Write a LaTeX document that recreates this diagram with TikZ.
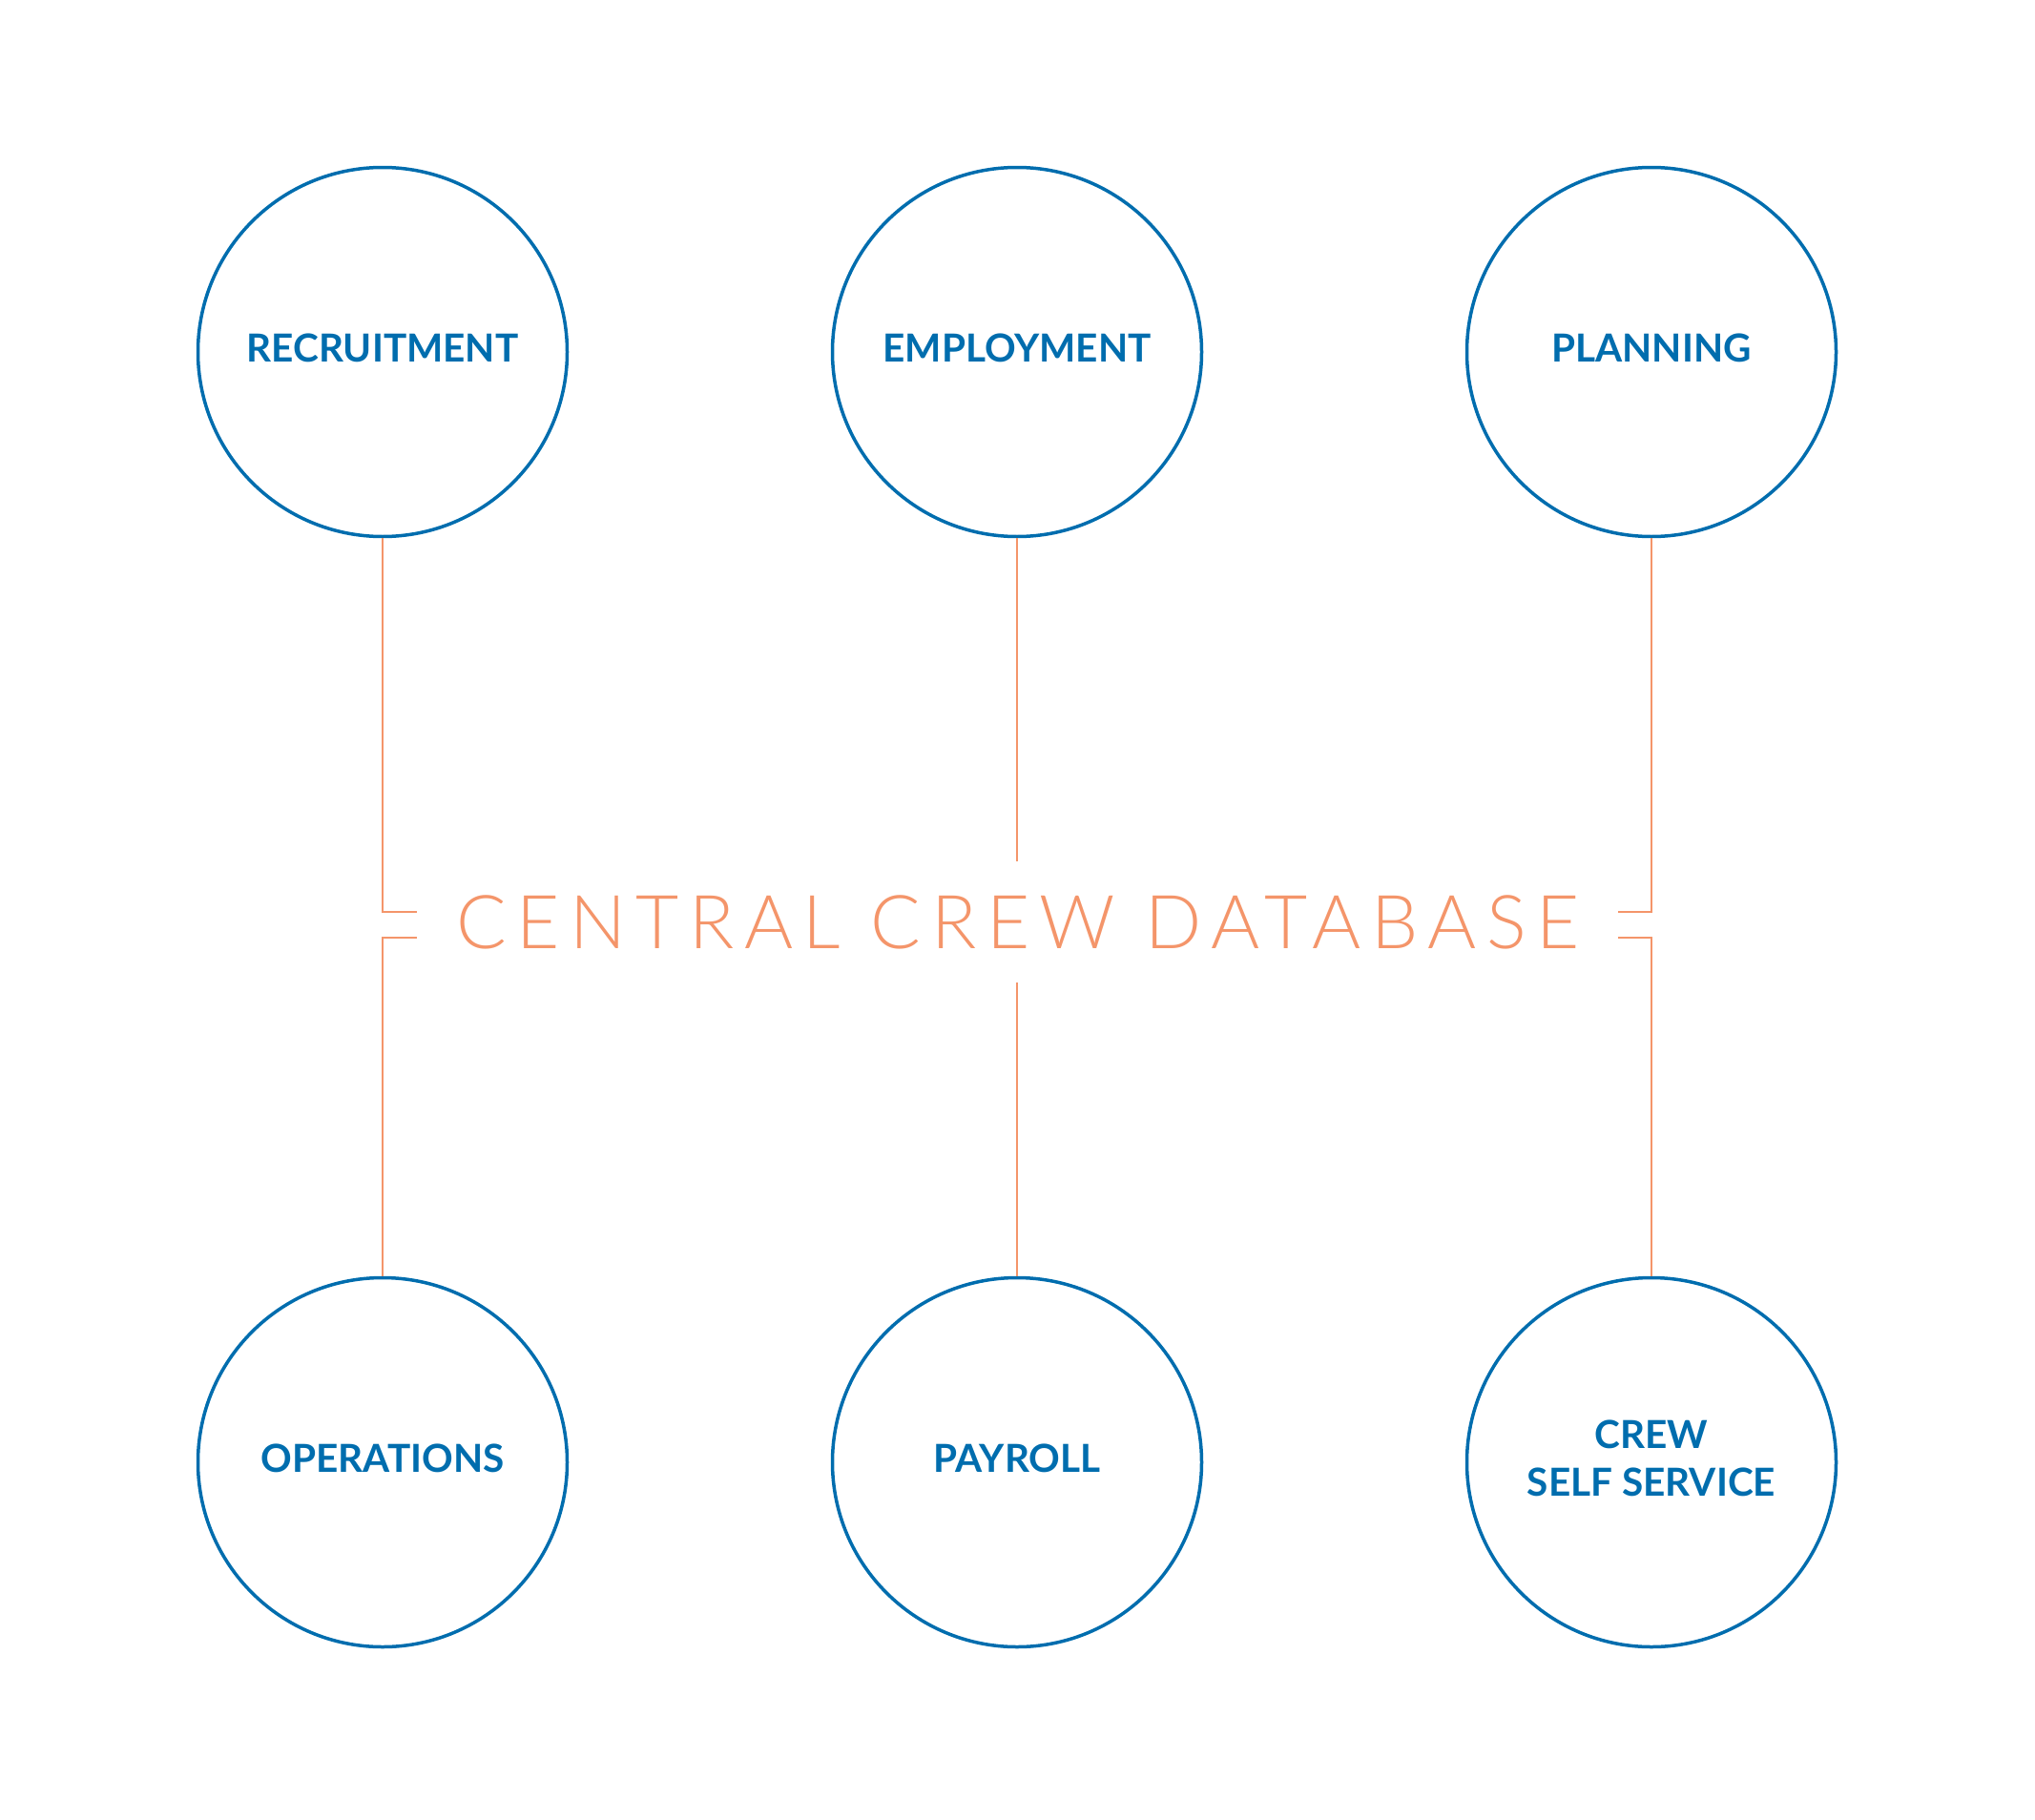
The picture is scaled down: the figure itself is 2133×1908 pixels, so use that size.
\documentclass[tikz,border=0pt]{standalone}
\usepackage{fontspec}
\setmainfont{Lato}[UprightFont=* Bold]
\newfontfamily\thinfont{Lato}[UprightFont=* Light, LetterSpace=13.5]
\definecolor{cblue}{HTML}{006DAE}
\definecolor{corange}{HTML}{F4956A}
\begin{document}
\begin{tikzpicture}[x=1pt,y=-1pt,
  unit/.style={circle, draw=cblue, line width=3.5pt, minimum size=387pt, inner sep=0pt,
    text=cblue, align=center, text depth=8pt, font=\fontsize{40.5}{50}\selectfont},
  link/.style={draw=corange, line width=2pt}]
\useasboundingbox (0,0) rectangle (2133,1908);
\node[unit] (c1) at (401,369) {RECRUITMENT};
\node[unit] (c2) at (1066,369) {EMPLOYMENT};
\node[unit] (c3) at (1731,369) {PLANNING};
\node[unit] (c4) at (401,1533) {OPERATIONS};
\node[unit] (c5) at (1066,1533) {PAYROLL};
\node[unit] (c6) at (1731,1533) {CREW\\SELF SERVICE};
\node[text=corange, inner sep=0pt, font=\thinfont\fontsize{78}{80}\selectfont] (db) at (1067,967) {CENTRAL CREW DATABASE};
\coordinate (lt) at (437,956);
\coordinate (lb) at (437,983);
\coordinate (rt) at (1696,956);
\coordinate (rb) at (1696,983);
\coordinate (mt) at (1066,903);
\coordinate (mb) at (1066,1030);
\draw[link] (c1.south) |- (lt);
\draw[link] (c4.north) |- (lb);
\draw[link] (c3.south) |- (rt);
\draw[link] (c6.north) |- (rb);
\draw[link] (c2.south) -- (mt);
\draw[link] (c5.north) -- (mb);
\end{tikzpicture}
\end{document}
